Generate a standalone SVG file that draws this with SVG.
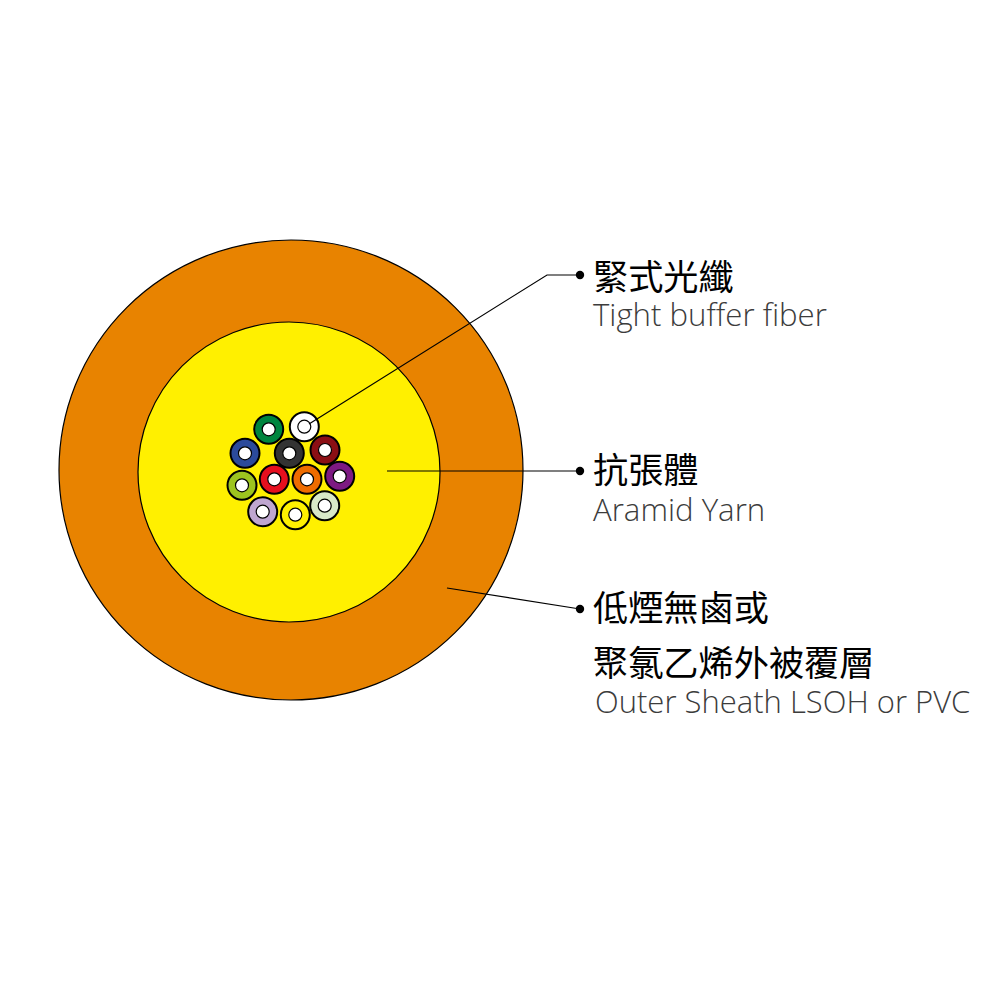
<svg xmlns="http://www.w3.org/2000/svg" width="1000" height="1000" viewBox="0 0 1000 1000">
<style>
.o{stroke:#000;stroke-width:1.2}
.f{stroke:#000;stroke-width:2}
.c{fill:#fff;stroke:#000;stroke-width:1.2}
.l{fill:none;stroke:#000;stroke-width:1.2}
.zh{font-family:"Noto Sans CJK TC","Noto Sans CJK SC",sans-serif;font-size:35.2px;fill:#000}
.en{font-family:"Open Sans","Noto Sans",sans-serif;font-weight:300;font-size:31.2px;fill:#3c3c3c}
</style>
<rect width="1000" height="1000" fill="#fff"/>
<g id="sheath"><ellipse class="o" cx="291" cy="470" rx="232" ry="230" fill="#e88300"/></g>
<g id="yarn"><ellipse class="o" cx="289" cy="472" rx="151" ry="150" fill="#fff000"/></g>
<g id="fibers">
<g id="fiber-green"><circle class="f" cx="268.7" cy="429.3" r="14.5" fill="#00853f"/><circle class="c" cx="268.7" cy="429.3" r="6.5"/></g>
<g id="fiber-white"><circle class="f" cx="304.3" cy="426.7" r="14.5" fill="#fff"/><circle class="c" cx="304.3" cy="426.7" r="6.5"/></g>
<g id="fiber-blue"><circle class="f" cx="245" cy="453.3" r="14.5" fill="#2b4a9b"/><circle class="c" cx="245" cy="453.3" r="6.5"/></g>
<g id="fiber-black"><circle class="f" cx="289.3" cy="453.3" r="14.5" fill="#333"/><circle class="c" cx="289.3" cy="453.3" r="6.5"/></g>
<g id="fiber-darkred"><circle class="f" cx="325" cy="450" r="14.5" fill="#8b0f14"/><circle class="c" cx="325" cy="450" r="6.5"/></g>
<g id="fiber-purple"><circle class="f" cx="339.7" cy="476.3" r="14.5" fill="#7d1a82"/><circle class="c" cx="339.7" cy="476.3" r="6.5"/></g>
<g id="fiber-orange"><circle class="f" cx="307" cy="479.3" r="14.5" fill="#ee6c00"/><circle class="c" cx="307" cy="479.3" r="6.5"/></g>
<g id="fiber-red"><circle class="f" cx="274.3" cy="479.3" r="14.5" fill="#e60f1e"/><circle class="c" cx="274.3" cy="479.3" r="6.5"/></g>
<g id="fiber-lime"><circle class="f" cx="242" cy="485.3" r="14.5" fill="#9dc41f"/><circle class="c" cx="242" cy="485.3" r="6.5"/></g>
<g id="fiber-lilac"><circle class="f" cx="262.7" cy="511.7" r="14.5" fill="#bfa6d0"/><circle class="c" cx="262.7" cy="511.7" r="6.5"/></g>
<g id="fiber-yellow"><circle class="f" cx="295.3" cy="514.7" r="14.5" fill="#fff000"/><circle class="c" cx="295.3" cy="514.7" r="6.5"/></g>
<g id="fiber-pale"><circle class="f" cx="324.7" cy="505.7" r="14.5" fill="#d8e8c8"/><circle class="c" cx="324.7" cy="505.7" r="6.5"/></g>
</g>
<g id="connectors">
<polyline class="l" points="309,424 547,275 580,275"/>
<circle cx="580" cy="275" r="4.2"/>
<polyline class="l" points="387,471 580,471"/>
<circle cx="580" cy="471" r="4.2"/>
<polyline class="l" points="447,588 580,609"/>
<circle cx="580" cy="609" r="4.2"/>
</g>
<g id="label-tight">
<text class="zh" x="593" y="290">緊式光纖</text>
<text class="en" x="593" y="326">Tight buffer fiber</text>
</g>
<g id="label-yarn">
<text class="zh" x="593" y="483">抗張體</text>
<text class="en" x="593" y="521">Aramid Yarn</text>
</g>
<g id="label-sheath">
<text class="zh" x="593" y="621">低煙無鹵或</text>
<text class="zh" x="593" y="676">聚氯乙烯外被覆層</text>
<text class="en" x="595" y="713" style="font-size:31px">Outer Sheath LSOH or PVC</text>
</g>
</svg>
